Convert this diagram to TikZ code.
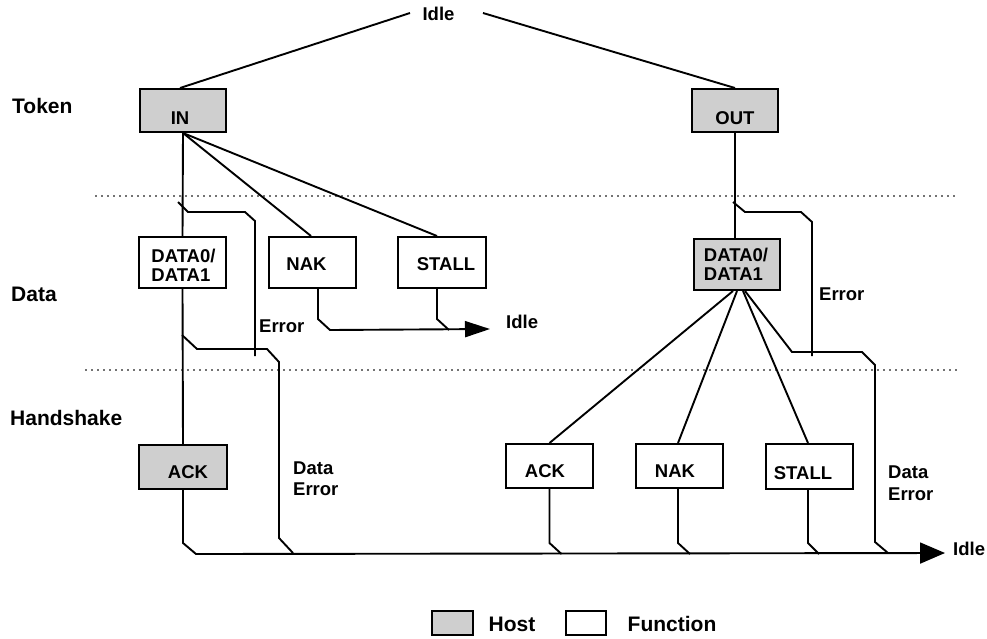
\documentclass[tikz,border=0pt]{standalone}
\usepackage{fontspec}
\setmainfont{Liberation Sans}
\usetikzlibrary{arrows.meta}
\newcommand\fntS{\fontsize{18.5}{19}\selectfont\bfseries}
\newcommand\fntD{\fontsize{18.5}{21.5}\selectfont\bfseries}
\newcommand\fntL{\fontsize{21}{24}\selectfont\bfseries}
\begin{document}
\begin{tikzpicture}[x=1pt,y=-1pt,
  ln/.style={line width=1.9pt, line cap=butt, line join=miter},
  bx/.style={draw, line width=2pt, inner sep=0pt},
  host/.style={bx, fill=black!19},
  func/.style={bx, fill=white},
  tS/.style={font=\fntS, inner sep=0pt},
  tD/.style={font=\fntD, inner sep=0pt, align=left},
  tL/.style={font=\fntL, inner sep=0pt},
  dots/.style={draw=black!55, line width=1.3pt, dash pattern=on 1.5pt off 4.5pt},
  bigtip/.style={-{Triangle[length=25pt,width=21pt]}},
  smalltip/.style={-{Triangle[length=25pt,width=16pt]}},
]
\useasboundingbox (0,0) rectangle (987,638);

% layer separators
\draw[dots] (95,196) -- (955,196);
\draw[dots] (85,370) -- (960,370);

% boxes
\node[host, minimum width=86pt, minimum height=43pt,
  label={[tS,name=inT,xshift=-3pt,yshift=-7.5pt]center:IN}] (in) at (183,110.5) {};
\node[host, minimum width=86pt, minimum height=43pt,
  label={[tS,name=outT,yshift=-7.5pt]center:OUT}] (out) at (735,110.5) {};
\node[func, minimum width=87pt, minimum height=51pt,
  label={[tS,align=left,name=d1T,xshift=1pt,yshift=-2.5pt]center:{DATA0/\\DATA1}}] (d1) at (182.5,262.5) {};
\node[func, minimum width=87pt, minimum height=51pt,
  label={[tS,name=nakLT,xshift=-6pt,yshift=-1.5pt]center:NAK}] (nakL) at (312.5,262.5) {};
\node[func, minimum width=88pt, minimum height=51pt,
  label={[tS,name=stallLT,xshift=4pt,yshift=-1.5pt]center:STALL}] (stallL) at (442,262.5) {};
\node[host, minimum width=86pt, minimum height=51pt,
  label={[tS,align=left,name=d2T,xshift=-1pt,yshift=0pt]center:{DATA0/\\DATA1}}] (d2) at (737,264.5) {};
\node[host, minimum width=88pt, minimum height=44pt,
  label={[tS,name=ackLT,xshift=5pt,yshift=-5pt]center:ACK}] (ackL) at (183,467) {};
\node[func, minimum width=87pt, minimum height=44pt,
  label={[tS,name=ackRT,xshift=-4.5pt,yshift=-5pt]center:ACK}] (ackR) at (549.5,466) {};
\node[func, minimum width=87pt, minimum height=44pt,
  label={[tS,name=nakRT,xshift=-4.5pt,yshift=-5pt]center:NAK}] (nakR) at (679.5,466) {};
\node[func, minimum width=87pt, minimum height=45pt,
  label={[tS,name=stallRT,xshift=-6.5pt,yshift=-6.5pt]center:STALL}] (stallR) at (809.5,466.5) {};

% texts
\node[tS] (idleT) at (438.5,14) {Idle};
\coordinate (idleL) at (410,13);
\coordinate (idleR) at (483,13);
\node[tL, anchor=west] (token) at (12,106) {Token};
\node[tL, anchor=west] (data) at (11,294) {Data};
\node[tL, anchor=west] (hs) at (10,418) {Handshake};
\node[tS, anchor=west] (errL) at (259,326) {Error};
\node[tS, anchor=west] (errR) at (819,294) {Error};
\node[tD, anchor=west] (deL) at (293,478.5) {Data\\Error};
\node[tD, anchor=west] (deR) at (888,483) {Data\\Error};
\node[tS, anchor=west] (idleM) at (506,322) {Idle};
\node[tS, anchor=west] (idleB) at (953,549) {Idle};

% junction coordinates
\coordinate (endM) at (490,329);
\coordinate (endB) at (945,553);
\coordinate (eLs) at (178,202);
\coordinate (eLe) at (255,356);
\coordinate (deLs) at (182,335);
\coordinate (deLk) at (279,538);
\coordinate (eRs) at (733,202);
\coordinate (eRe) at (812,356);
\coordinate (deRb) at (792,352);
\coordinate (deRk) at (875,542);

% token connections
\draw[ln] (idleL) -- ([xshift=-3pt]in.north);
\draw[ln] (idleR) -- (out.north);
\draw[ln] (in.south) -- (d1.north);
\draw[ln] (in.south) -- ([xshift=-1.5pt]nakL.north);
\draw[ln] (in.south) -- ([xshift=-5pt]stallL.north);
\draw[ln] (out.south) -- (out.south |- d2.north);

% left side
\draw[ln] (eLs) -- ++(10,10) -- ++(57,0) -- ++(10,9) -- (eLe);
\draw[ln] (d1.south) -- (ackL.north);
\draw[ln] (deLs) -- ++(15,14) -- ++(70,0) -- ++(12,13) -- (deLk) -- ++(14,15);
\draw[ln, smalltip] ([xshift=5.5pt]nakL.south) -- ++(0,30) -- ++(12,11) -- (endM);
\draw[ln] ([xshift=-5pt]stallL.south) -- ++(0,30) -- ++(12,11);
\draw[ln, bigtip] (ackL.south) -- ++(0,53) -- ++(13,11) -- (endB);

% right side
\draw[ln] (eRs) -- ++(12,10) -- ++(56,0) -- ++(11,10) -- (eRe);
\draw[ln] ([xshift=-4pt]d2.south) -- (ackR.north);
\draw[ln] ([xshift=0pt]d2.south) -- ([xshift=-1.5pt]nakR.north);
\draw[ln] ([xshift=6pt]d2.south) -- ([xshift=-1.5pt]stallR.north);
\draw[ln] ([xshift=8pt]d2.south) -- (deRb) -- ++(70,0) -- ++(13,13) -- (deRk) -- ++(13,11);
\draw[ln] (ackR.south) -- ++(0,54) -- ++(12,11);
\draw[ln] ([xshift=-1.5pt]nakR.south) -- ++(0,54) -- ++(12,11);
\draw[ln] ([xshift=-1.5pt]stallR.south) -- ++(0,53) -- ++(11,11);

% legend
\node[host, minimum width=41pt, minimum height=24pt] (lgH) at (452.5,623) {};
\node[tL] (lgHT) at (512,624) {Host};
\node[func, minimum width=40pt, minimum height=24pt] (lgF) at (586,623) {};
\node[tL] (lgFT) at (672,624) {Function};
\end{tikzpicture}
\end{document}
